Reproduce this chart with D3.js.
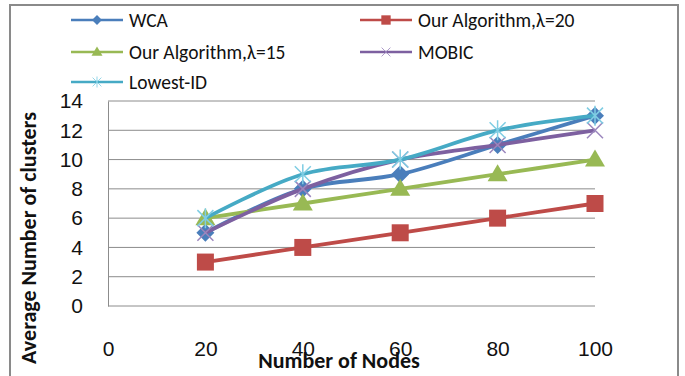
<!DOCTYPE html>
<html>
<head>
<meta charset="utf-8">
<script src="https://cdn.jsdelivr.net/npm/d3@7"></script>
<style>
  body { margin: 0; background: #fff; }
  svg { display: block; font-family: Carlito, Lato, "Open Sans", sans-serif; }
</style>
</head>
<body>
<div id="chart"></div>
<script>
const nodes = [20, 40, 60, 80, 100];
const xTicks = [0, 20, 40, 60, 80, 100];
const yTicks = [0, 2, 4, 6, 8, 10, 12, 14];
const seriesNames = ["WCA", "Our Algorithm,\u03bb=20", "Our Algorithm,\u03bb=15", "MOBIC", "Lowest-ID"];
const wca = [5, 8, 9, 11, 13];
const ourAlg20 = [3, 4, 5, 6, 7];
const ourAlg15 = [6, 7, 8, 9, 10];
const mobic = [5, 8, 10, 11, 12];
const lowestId = [6, 9, 10, 12, 13];

const seriesValues = [wca, ourAlg20, ourAlg15, mobic, lowestId];
const colors = ["#4a7ebb", "#be4b48", "#98b954", "#7d60a0", "#46aac5"];
const markers = ["diamond", "square", "triangle", "x", "star"];

const W = 685, H = 376;
const svg = d3.select('#chart').append('svg')
    .attr('width', W)
    .attr('height', H);

// outer frame
svg.append('rect')
    .attr('x', 10).attr('y', 5)
    .attr('width', 668).attr('height', 380)
    .attr('fill', 'none')
    .attr('stroke', '#8a8a8a')
    .attr('stroke-width', 2);

const plot = { left: 108, right: 595, top: 101, bottom: 306 };

const x = d3.scaleLinear().domain([0, 100]).range([plot.left, plot.right]);
const y = d3.scaleLinear().domain([0, 14]).range([plot.bottom, plot.top]);

// gridlines
svg.append('g')
    .selectAll('line')
    .data(yTicks)
    .enter().append('line')
    .attr('x1', plot.left).attr('x2', plot.right)
    .attr('y1', d => y(d)).attr('y2', d => y(d))
    .attr('stroke', '#8c8c8c')
    .attr('stroke-width', 1);

// y axis
const yAxis = svg.append('g')
    .attr('transform', `translate(${plot.left},0)`)
    .call(d3.axisLeft(y).tickValues(yTicks).tickSize(0).tickPadding(25));
yAxis.select('.domain').attr('stroke', '#8c8c8c');
yAxis.selectAll('text').attr('font-size', 21).attr('fill', '#111').attr('font-family', null);

// x axis labels sit well below the plot, as in the original
const xAxis = svg.append('g')
    .attr('transform', `translate(0,${plot.bottom})`)
    .call(d3.axisBottom(x).tickValues(xTicks).tickSize(0).tickPadding(35));
xAxis.select('.domain').remove();
xAxis.selectAll('text').attr('font-size', 21).attr('fill', '#111').attr('font-family', null);

// axis titles
svg.append('text')
    .attr('x', 339)
    .attr('y', 368)
    .attr('text-anchor', 'middle')
    .attr('font-size', 22)
    .attr('font-weight', 'bold')
    .attr('fill', '#111')
    .text('Number of Nodes');

svg.append('text')
    .attr('transform', 'rotate(-90)')
    .attr('x', -238)
    .attr('y', 36)
    .attr('text-anchor', 'middle')
    .attr('font-size', 22)
    .attr('font-weight', 'bold')
    .attr('fill', '#111')
    .text('Average Number of clusters');

function drawMarker(g, type, color) {
    if (type === 'diamond') {
        g.append('path').attr('d', 'M0,-9L9,0L0,9L-9,0Z').attr('fill', color);
    } else if (type === 'square') {
        g.append('rect').attr('x', -8.5).attr('y', -8.5).attr('width', 17).attr('height', 17).attr('fill', color);
    } else if (type === 'triangle') {
        g.append('path').attr('d', 'M0,-10L10,7L-10,7Z').attr('fill', color);
    } else if (type === 'x') {
        g.append('path').attr('d', 'M-8,-8L8,8M-8,8L8,-8').attr('stroke', '#9b86bd').attr('stroke-width', 1.5);
    } else if (type === 'star') {
        g.append('path').attr('d', 'M-8,-8L8,8M-8,8L8,-8M0,-10L0,10').attr('stroke', '#7fcde3').attr('stroke-width', 1.5);
    }
}

const line = d3.line()
    .x((d, i) => x(nodes[i]))
    .y(d => y(d))
    .curve(d3.curveCatmullRom.alpha(0.5));

seriesValues.forEach((vals, s) => {
    const g = svg.append('g');
    g.append('path')
        .datum(vals)
        .attr('d', line)
        .attr('fill', 'none')
        .attr('stroke', colors[s])
        .attr('stroke-width', 3.8);
    vals.forEach((v, i) => {
        const m = g.append('g').attr('transform', `translate(${x(nodes[i])},${y(v)})`);
        drawMarker(m, markers[s], colors[s]);
    });
});

// legend
const legendPos = [[71, 20], [360, 20], [71, 52], [360, 52], [71, 82]];
seriesNames.forEach((name, s) => {
    const [lx, ly] = legendPos[s];
    const g = svg.append('g').attr('transform', `translate(${lx},${ly})`);
    g.append('line')
        .attr('x1', 0).attr('x2', 52)
        .attr('y1', 0).attr('y2', 0)
        .attr('stroke', colors[s])
        .attr('stroke-width', 2.5);
    const m = g.append('g').attr('transform', 'translate(26,0) scale(0.55)');
    drawMarker(m, markers[s], colors[s]);
    g.append('text')
        .attr('x', 58)
        .attr('y', 0)
        .attr('dy', '0.35em')
        .attr('font-size', 19.5)
        .attr('fill', '#111')
        .text(name);
});
</script>
</body>
</html>
